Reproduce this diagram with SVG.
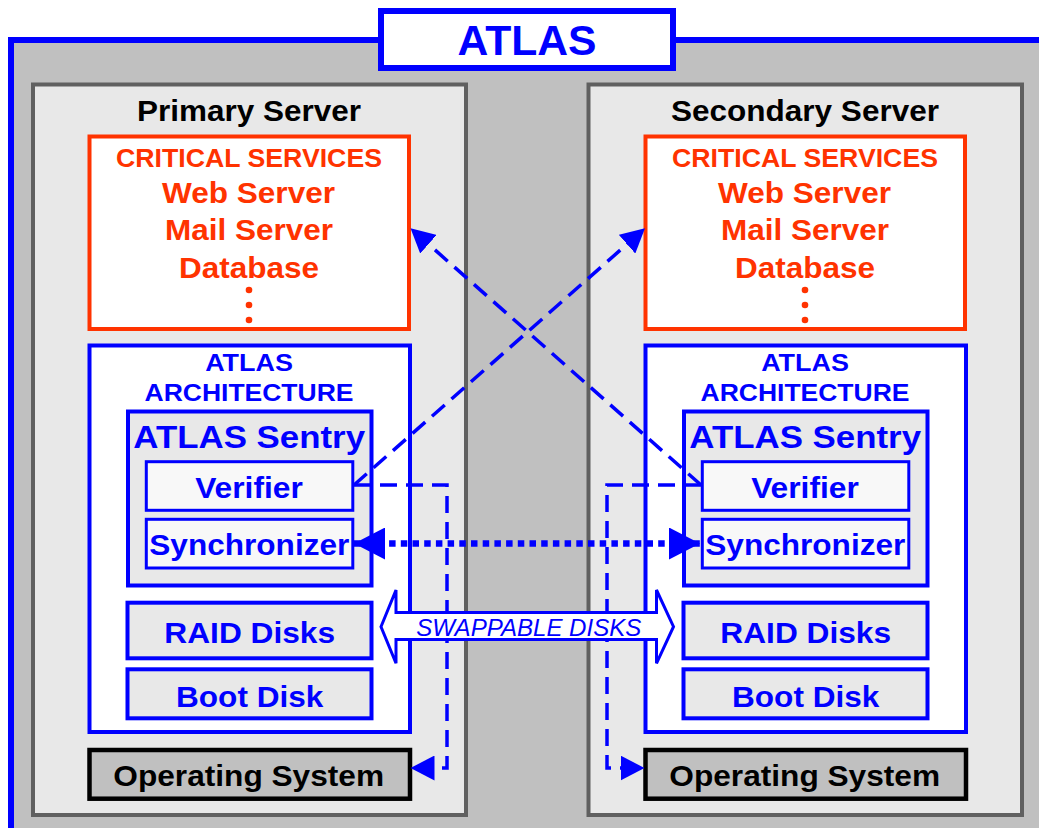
<svg xmlns="http://www.w3.org/2000/svg" width="1039" height="828" viewBox="0 0 1039 828">
<style>
.t{font-family:"Liberation Sans",Arial,Helvetica,sans-serif;font-weight:bold;text-anchor:middle}
.blk{fill:#000}
.red{fill:#ff3300}
.blu{fill:#0000ff}
.srv{fill:#e8e8e8;stroke:#606060;stroke-width:4}
.crit{fill:#fff;stroke:#ff3300;stroke-width:4}
.arch{fill:#fff;stroke:#0000ff;stroke-width:4}
.sentry{fill:#e8e8e8;stroke:#0000ff;stroke-width:4}
.sub{fill:#f8f8f8;stroke:#0000ff;stroke-width:3}
.disk{fill:#e8e8e8;stroke:#0000ff;stroke-width:4}
.os{fill:#c0c0c0;stroke:#000;stroke-width:4.5}
.dash{fill:none;stroke:#0000ff;stroke-width:3.5;stroke-dasharray:17 9}
.dot{fill:none;stroke:#0000ff;stroke-width:6.5;stroke-dasharray:6.5 5.2}
</style>
<defs>
<marker id="ah" markerUnits="userSpaceOnUse" markerWidth="25" markerHeight="25" refX="24" refY="12.5" orient="auto" viewBox="0 0 25 25">
<path d="M0,0 L24,12.5 L0,25 z" fill="#0000ff"/>
</marker>
<marker id="bh" markerUnits="userSpaceOnUse" markerWidth="32" markerHeight="32" refX="31" refY="16" orient="auto-start-reverse" viewBox="0 0 32 32">
<path d="M0,0 L31,16 L0,32 z" fill="#0000ff"/>
</marker>
</defs>
<rect x="0" y="0" width="1039" height="828" fill="#fff"/>
<g id="frame">
<rect x="11" y="40" width="1100" height="900" fill="#c0c0c0" stroke="#0000ff" stroke-width="6"/>
</g>
<g id="title">
<rect x="381" y="11" width="292" height="57" fill="#fff" stroke="#0000ff" stroke-width="6"/>
<text class="t blu" x="527" y="55" font-size="42" textLength="139" lengthAdjust="spacingAndGlyphs">ATLAS</text>
</g>
<g id="primary-server">
<rect class="srv" x="33" y="84.5" width="433" height="730.5"/>
<text class="t blk" x="249" y="121" font-size="30" textLength="224" lengthAdjust="spacingAndGlyphs">Primary Server</text>
</g>
<g id="secondary-server">
<rect class="srv" x="588.5" y="84.5" width="433.5" height="730.5"/>
<text class="t blk" x="805" y="121" font-size="30" textLength="268" lengthAdjust="spacingAndGlyphs">Secondary Server</text>
</g>
<g id="primary-critical">
<rect class="crit" x="89.5" y="136.5" width="319.5" height="192.5"/>
<text class="t red" x="249" y="167" font-size="25" textLength="266" lengthAdjust="spacingAndGlyphs">CRITICAL SERVICES</text>
<text class="t red" x="248.5" y="203" font-size="30" textLength="173" lengthAdjust="spacingAndGlyphs">Web Server</text>
<text class="t red" x="249" y="240" font-size="30" textLength="168" lengthAdjust="spacingAndGlyphs">Mail Server</text>
<text class="t red" x="249" y="277.5" font-size="30" textLength="140" lengthAdjust="spacingAndGlyphs">Database</text>
<circle cx="249" cy="290" r="3.3" fill="#ff3300"/>
<circle cx="249" cy="305" r="3.3" fill="#ff3300"/>
<circle cx="249" cy="320" r="3.3" fill="#ff3300"/>
</g>
<g id="secondary-critical">
<rect class="crit" x="645.5" y="136.5" width="319.5" height="192.5"/>
<text class="t red" x="805" y="167" font-size="25" textLength="266" lengthAdjust="spacingAndGlyphs">CRITICAL SERVICES</text>
<text class="t red" x="804.5" y="203" font-size="30" textLength="173" lengthAdjust="spacingAndGlyphs">Web Server</text>
<text class="t red" x="805" y="240" font-size="30" textLength="168" lengthAdjust="spacingAndGlyphs">Mail Server</text>
<text class="t red" x="805" y="277.5" font-size="30" textLength="140" lengthAdjust="spacingAndGlyphs">Database</text>
<circle cx="805" cy="290" r="3.3" fill="#ff3300"/>
<circle cx="805" cy="305" r="3.3" fill="#ff3300"/>
<circle cx="805" cy="320" r="3.3" fill="#ff3300"/>
</g>
<g id="primary-architecture">
<rect class="arch" x="89.5" y="345.5" width="320.5" height="386.5"/>
<text class="t blu" x="249" y="370.7" font-size="24.5" textLength="87.7" lengthAdjust="spacingAndGlyphs">ATLAS</text>
<text class="t blu" x="249" y="401" font-size="24.5" textLength="209" lengthAdjust="spacingAndGlyphs">ARCHITECTURE</text>
</g>
<g id="primary-sentry">
<rect class="sentry" x="128" y="411.5" width="243.5" height="174"/>
<text class="t blu" x="249.2" y="448.3" font-size="32" textLength="231.7" lengthAdjust="spacingAndGlyphs">ATLAS Sentry</text>
</g>
<g id="primary-verifier">
<rect class="sub" x="146.3" y="461.7" width="206.5" height="48.6"/>
<text class="t blu" x="249" y="498.3" font-size="30" textLength="107.7" lengthAdjust="spacingAndGlyphs">Verifier</text>
</g>
<g id="primary-synchronizer">
<rect class="sub" x="146.3" y="519.3" width="206.5" height="48.7"/>
<text class="t blu" x="249.3" y="555" font-size="30" textLength="200" lengthAdjust="spacingAndGlyphs">Synchronizer</text>
</g>
<g id="primary-raid">
<rect class="disk" x="127.5" y="602.7" width="244" height="55.6"/>
<text class="t blu" x="249.7" y="643.3" font-size="30" textLength="170.7" lengthAdjust="spacingAndGlyphs">RAID Disks</text>
</g>
<g id="primary-boot">
<rect class="disk" x="127.5" y="669.3" width="244" height="49"/>
<text class="t blu" x="249.7" y="707.3" font-size="30" textLength="147.3" lengthAdjust="spacingAndGlyphs">Boot Disk</text>
</g>
<g id="primary-os">
<rect class="os" x="89.5" y="750" width="320.5" height="48.7"/>
<text class="t blk" x="248.7" y="785.5" font-size="30" textLength="270.7" lengthAdjust="spacingAndGlyphs">Operating System</text>
</g>
<g id="secondary-architecture">
<rect class="arch" x="645.5" y="345.5" width="320.5" height="386.5"/>
<text class="t blu" x="805" y="370.7" font-size="24.5" textLength="87.7" lengthAdjust="spacingAndGlyphs">ATLAS</text>
<text class="t blu" x="805" y="401" font-size="24.5" textLength="209" lengthAdjust="spacingAndGlyphs">ARCHITECTURE</text>
</g>
<g id="secondary-sentry">
<rect class="sentry" x="684" y="411.5" width="243.5" height="174"/>
<text class="t blu" x="805.2" y="448.3" font-size="32" textLength="231.7" lengthAdjust="spacingAndGlyphs">ATLAS Sentry</text>
</g>
<g id="secondary-verifier">
<rect class="sub" x="702.3" y="461.7" width="206.5" height="48.6"/>
<text class="t blu" x="805" y="498.3" font-size="30" textLength="107.7" lengthAdjust="spacingAndGlyphs">Verifier</text>
</g>
<g id="secondary-synchronizer">
<rect class="sub" x="702.3" y="519.3" width="206.5" height="48.7"/>
<text class="t blu" x="805.3" y="555" font-size="30" textLength="200" lengthAdjust="spacingAndGlyphs">Synchronizer</text>
</g>
<g id="secondary-raid">
<rect class="disk" x="683.5" y="602.7" width="244" height="55.6"/>
<text class="t blu" x="805.7" y="643.3" font-size="30" textLength="170.7" lengthAdjust="spacingAndGlyphs">RAID Disks</text>
</g>
<g id="secondary-boot">
<rect class="disk" x="683.5" y="669.3" width="244" height="49"/>
<text class="t blu" x="805.7" y="707.3" font-size="30" textLength="147.3" lengthAdjust="spacingAndGlyphs">Boot Disk</text>
</g>
<g id="secondary-os">
<rect class="os" x="645.5" y="750" width="320.5" height="48.7"/>
<text class="t blk" x="804.7" y="785.5" font-size="30" textLength="270.7" lengthAdjust="spacingAndGlyphs">Operating System</text>
</g>
<g id="connectors">
<path class="dash" d="M354,485 L645,228.3" marker-end="url(#ah)"/>
<path class="dash" d="M701,485 L410.5,228.3" marker-end="url(#ah)"/>
<path class="dash" d="M354,485 H447 V768 H410.5" marker-end="url(#ah)"/>
<path class="dash" d="M701,485 H607 V768 H644.5" marker-end="url(#ah)"/>
<path class="dot" d="M354,543.5 H700" marker-start="url(#bh)" marker-end="url(#bh)"/>
</g>
<g id="swappable-disks">
<polygon points="381,626.7 396,590 396,612.5 656.5,612.5 656.5,590 673.5,626.7 656.5,663.3 656.5,639.5 396,639.5 396,663.3" fill="#fff" stroke="#0000ff" stroke-width="3"/>
<text x="528.8" y="635.5" font-family="'Liberation Sans',Arial,Helvetica,sans-serif" font-style="italic" font-size="24" text-anchor="middle" fill="#0000ff" textLength="225" lengthAdjust="spacingAndGlyphs">SWAPPABLE DISKS</text>
</g>
</svg>
